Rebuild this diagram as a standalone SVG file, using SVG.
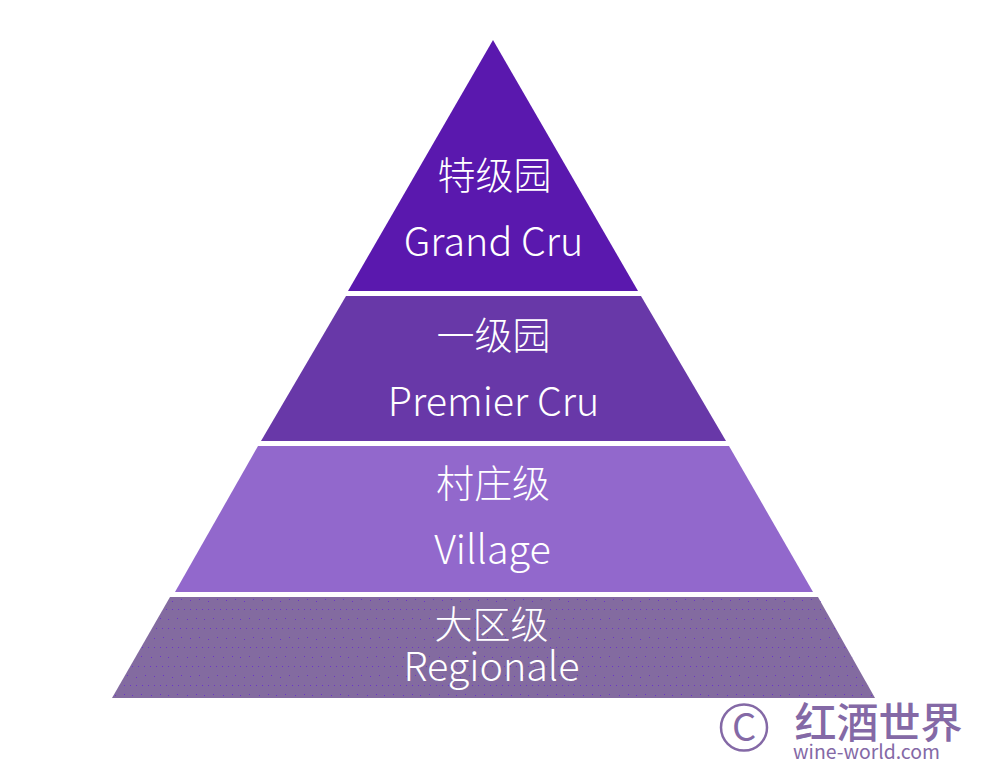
<svg xmlns="http://www.w3.org/2000/svg" width="1000" height="783" viewBox="0 0 1000 783">
<style>
text{font-family:"Noto Sans CJK SC","Noto Sans",sans-serif;font-weight:300;fill:#fff;text-anchor:middle;font-size:39.5px}
.cjk{font-size:38px}
.logo{fill:#8469a6}
.d{fill:#6a35c8}
</style>
<defs>
<pattern id="dots" width="36" height="38" patternUnits="userSpaceOnUse" x="112" y="609">
<rect class="d" x="0" y="0" width="1" height="1"/><rect class="d" x="6" y="0" width="1" height="1"/>
<rect class="d" x="12" y="0" width="1" height="1"/><rect class="d" x="18" y="0" width="1" height="1"/>
<rect class="d" x="24" y="0" width="1" height="1"/><rect class="d" x="30" y="0" width="1" height="1"/>
<rect class="d" x="3" y="10" width="1" height="1"/><rect class="d" x="12" y="9" width="1" height="1"/>
<rect class="d" x="20" y="10" width="1" height="1"/><rect class="d" x="29" y="9" width="1" height="1"/>
<rect class="d" x="2" y="19" width="1" height="1"/><rect class="d" x="8" y="19" width="1" height="1"/>
<rect class="d" x="14" y="19" width="1" height="1"/><rect class="d" x="20" y="19" width="1" height="1"/>
<rect class="d" x="26" y="19" width="1" height="1"/><rect class="d" x="32" y="19" width="1" height="1"/>
<rect class="d" x="6" y="29" width="1" height="1"/><rect class="d" x="15" y="28" width="1" height="1"/>
<rect class="d" x="24" y="30" width="1" height="1"/><rect class="d" x="33" y="28" width="1" height="1"/>
</pattern>
</defs>
<rect width="1000" height="783" fill="#fff"/>
<g id="grand-cru">
<polygon points="493,40 638,291 348,291" fill="#5a18ae"/>
<text class="cjk" x="494.5" y="189">特级园</text>
<text x="493.5" y="256">Grand Cru</text>
</g>
<g id="premier-cru">
<polygon points="346,296 641,296 726,441 261,441" fill="#6838a8"/>
<text class="cjk" x="493.5" y="349">一级园</text>
<text x="493.5" y="416">Premier Cru</text>
</g>
<g id="village">
<polygon points="258,446 729,446 813,592 175,592" fill="#9268cc"/>
<text class="cjk" x="493" y="497">村庄级</text>
<text x="492.5" y="564">Village</text>
</g>
<g id="regionale">
<polygon points="170,597 818,597 875,698 112,698" fill="#836ba0"/>
<polygon points="170,597 818,597 875,698 112,698" fill="url(#dots)"/>
<text class="cjk" x="491.5" y="638">大区级</text>
<text x="491.5" y="681">Regionale</text>
</g>
<g id="logo">
<circle cx="744" cy="727.5" r="23" fill="none" stroke="#8469a6" stroke-width="2.5"/>
<text class="logo" x="744" y="741" style="font-size:38px;font-weight:400">C</text>
<text class="logo" x="878.5" y="738" style="font-size:42px;font-weight:500">红酒世界</text>
<text class="logo" x="866.5" y="759" style="font-size:19.4px;font-weight:400">wine-world.com</text>
</g>
</svg>
